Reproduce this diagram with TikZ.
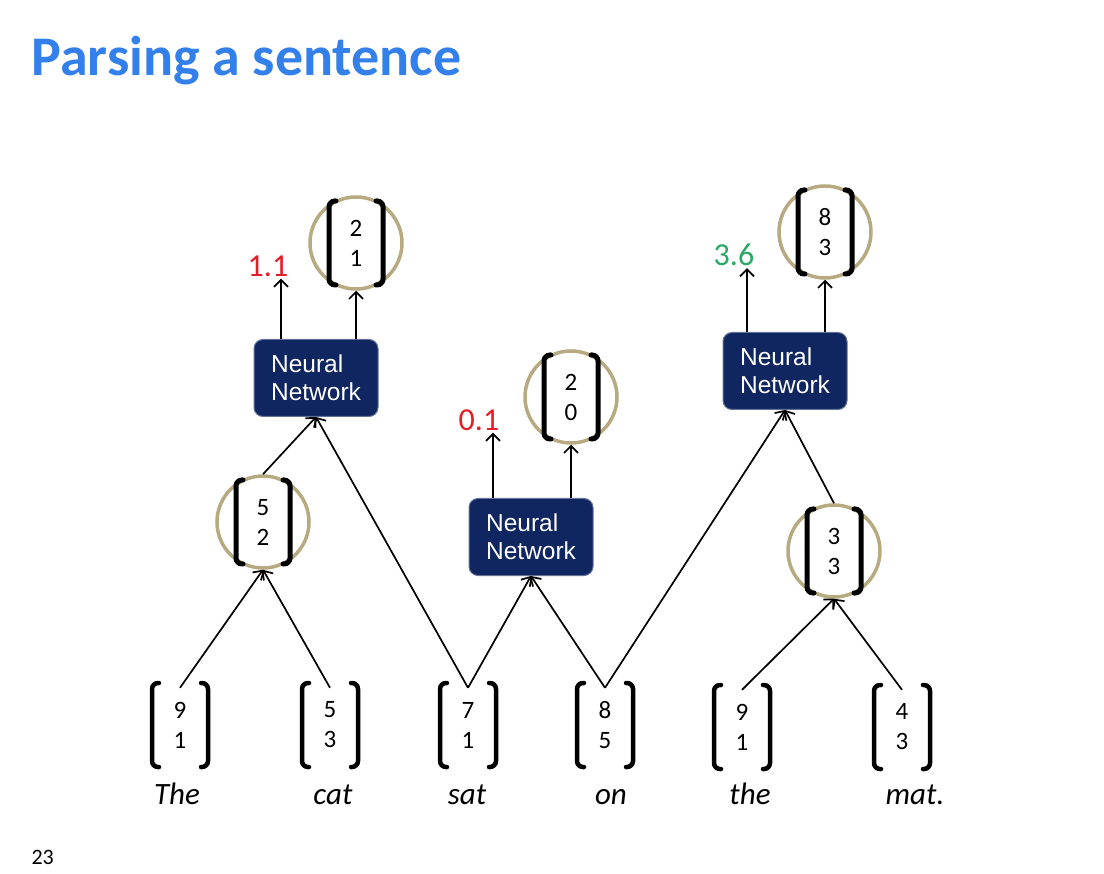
\documentclass[tikz,border=0pt]{standalone}
\usepackage{fontspec}
\setmainfont{Carlito}
\newfontfamily\arialfont{Liberation Sans}
\usetikzlibrary{positioning, arrows.meta, calc}
\definecolor{titleblue}{RGB}{52,128,235}
\definecolor{nnblue}{RGB}{16,38,96}
\definecolor{ringtan}{RGB}{184,170,128}
\definecolor{scorered}{RGB}{228,30,40}
\definecolor{scoregreen}{RGB}{38,170,100}

% square brackets round a vector node: node, half width, half height
\newcommand{\vecbrackets}[4][4.5pt]{%
  \draw[line width=#1, rounded corners=6pt, line cap=round]
    ($(#2)+(-#3+7,-#4)$) -- ($(#2)+(-#3,-#4)$) -- ($(#2)+(-#3,#4)$) -- ($(#2)+(-#3+7,#4)$);
  \draw[line width=#1, rounded corners=6pt, line cap=round]
    ($(#2)+(#3-7,-#4)$) -- ($(#2)+(#3,-#4)$) -- ($(#2)+(#3,#4)$) -- ($(#2)+(#3-7,#4)$);
}

\begin{document}
\begin{tikzpicture}[x=1pt, y=-1pt,
    vec/.style={minimum width=55pt, minimum height=86pt, align=center, inner sep=0pt,
      font=\fontsize{25}{30}\selectfont},
    ring/.style={circle, draw=ringtan, line width=3.5pt, minimum size=92pt, inner sep=0pt,
      align=center, font=\fontsize{25}{30}\selectfont},
    nnbox/.style={fill=nnblue, draw=nnblue!65!white, line width=1pt, rounded corners=9pt,
      minimum width=124pt, minimum height=77pt, text=white, align=left,
      font=\arialfont\fontsize{24.5}{28}\selectfont},
    score/.style={font=\fontsize{32}{34}\selectfont, inner sep=2pt},
    word/.style={anchor=base, font=\itshape\fontsize{31}{34}\selectfont, inner sep=0pt},
    link/.style={->, line width=1.7pt},
    >={Straight Barb[length=7pt, width=14pt]}]
  \fill[white] (0,0) rectangle (1104,874);
  \useasboundingbox (0,0) rectangle (1104,874);

  \node[anchor=base west, text=titleblue, font=\bfseries\fontsize{56}{64}\selectfont] (title)
    at (28,76) {Parsing a sentence};
  \node[anchor=base west, font=\fontsize{22}{26}\selectfont] (page) at (28,864) {23};

  % word vectors
  \node[vec] (vThe) at (180,725) {9\\1};
  \node[vec] (vCat) at (330,725) {5\\3};
  \node[vec] (vSat) at (468,725) {7\\1};
  \node[vec] (vOn)  at (605,725) {8\\5};
  \node[vec] (vThe2) at (742,727) {9\\1};
  \node[vec] (vMat) at (902,727) {4\\3};
  \foreach \v in {vThe, vCat, vSat, vOn, vThe2, vMat}
    {\vecbrackets{\v}{28}{42}}

  \node[word] (wThe) at (177,804) {The};
  \node[word] (wCat) at (333,804) {cat};
  \node[word] (wSat) at (467,804) {sat};
  \node[word] (wOn)  at (611,804) {on};
  \node[word] (wThe2) at (750,804) {the};
  \node[word] (wMat) at (915,804) {mat.};

  % merged vectors
  \node[ring] (r52) at (263,522) {5\\2};
  \node[ring] (r33) at (834,551) {3\\3};
  \node[ring] (r21) at (356,243) {2\\1};
  \node[ring] (r20) at (571,397) {2\\0};
  \node[ring] (r83) at (825,232) {8\\3};
  \foreach \r in {r52, r33, r21, r20, r83}
    {\vecbrackets[5pt]{\r}{27}{42}}

  % networks
  \node[nnbox] (nn1) at (316,378) {Neural\\Network};
  \node[nnbox] (nn2) at (531,537) {Neural\\Network};
  \node[nnbox] (nn3) at (785,371) {Neural\\Network};

  \node[score, text=scorered] (s1) at (268,266) {1.1};
  \node[score, text=scorered] (s2) at (479,420) {0.1};
  \node[score, text=scoregreen] (s3) at (734,255) {3.6};

  % scores and outputs
  \draw[link] ([xshift=-35pt]nn1.north) -- ([xshift=-35pt]nn1.north |- s1.south);
  \draw[link] (nn1.north -| r21.south) -- (r21.south);
  \draw[link] ([xshift=-38pt]nn2.north) -- ([xshift=-38pt]nn2.north |- s2.south);
  \draw[link] (nn2.north -| r20.south) -- (r20.south);
  \draw[link] ([xshift=-38pt]nn3.north) -- ([xshift=-38pt]nn3.north |- s3.south);
  \draw[link] (nn3.north -| r83.south) -- (r83.south);

  % tree
  \draw[link] ([yshift=-6pt]vThe.north) -- (r52.south);
  \draw[link] ([yshift=-6pt]vCat.north) -- (r52.south);
  \draw[link] (r52.north) -- (nn1.south);
  \draw[link] ([yshift=-6pt]vSat.north) -- (nn1.south);
  \draw[link] ([yshift=-6pt]vSat.north) -- (nn2.south);
  \draw[link] ([yshift=-6pt]vOn.north) -- (nn2.south);
  \draw[link] ([yshift=-6pt]vOn.north) -- (nn3.south);
  \draw[link] (r33.north) -- (nn3.south);
  \draw[link] ([yshift=-6pt]vThe2.north) -- (r33.south);
  \draw[link] ([yshift=-6pt]vMat.north) -- (r33.south);
\end{tikzpicture}
\end{document}
